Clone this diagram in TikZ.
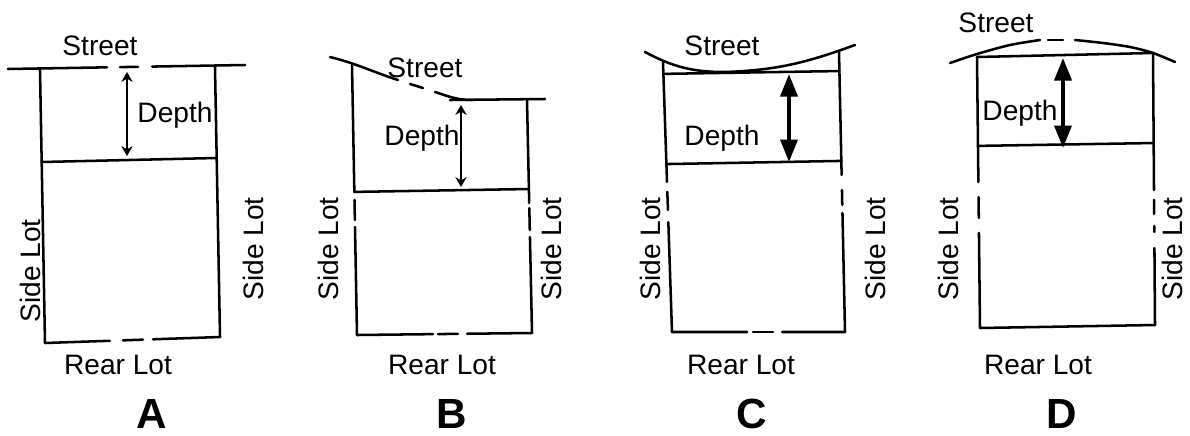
\documentclass[tikz,border=0pt]{standalone}
\usepackage{fontspec}
\setmainfont{Liberation Sans}
\usetikzlibrary{arrows.meta,calc}

\newcommand\lotline[3]{%
  \foreach \ta/\tb in {#3}
    \draw[lot] ($(#1)!\ta!(#2)$) -- ($(#1)!\tb!(#2)$);}

\begin{document}
\begin{tikzpicture}[x=0.025cm,y=-0.025cm,
  lot/.style={line width=1.8pt,line cap=round},
  lbl/.style={font=\fontsize{20}{24}\selectfont,anchor=base,inner sep=0pt},
  sidelbl/.style={font=\fontsize{20}{24}\selectfont,rotate=90,inner sep=0pt},
  tag/.style={font=\fontsize{30}{36}\selectfont\bfseries,anchor=base,inner sep=0pt},
  gauge/.style={line width=1.8pt,{Stealth[length=7pt,width=8pt]}-{Stealth[length=7pt,width=8pt]}},
  biggauge/.style={line width=2.8pt,{Triangle[length=16pt,width=12pt]}-{Triangle[length=16pt,width=12pt]}}
]
  \useasboundingbox (0,0) rectangle (1190,435);

  % A
  \coordinate (A-sw) at (8,69);   \coordinate (A-se) at (245,65);
  \coordinate (A-tl) at (40,70);  \coordinate (A-tr) at (215,67);
  \coordinate (A-bl) at (45,343); \coordinate (A-br) at (220,337);
  \lotline{A-sw}{A-se}{0/0.418, 0.473/0.549, 0.608/1}
  \draw[lot] (A-tl) -- (A-bl) (A-tr) -- (A-br);
  \draw[lot] ($(A-tl)!0.337!(A-bl)$) -- ($(A-tr)!0.337!(A-br)$);
  \lotline{A-bl}{A-br}{0/0.371, 0.446/0.56, 0.617/1}
  \coordinate (A-up) at (127,72); \coordinate (A-dn) at (127,156);
  \draw[gauge] (A-up) -- (A-dn);
  \node[lbl] (A-street) at (100,55) {Street};
  \node[lbl] (A-depth) at (175,122) {Depth};
  \node[sidelbl] (A-left) at (30,271) {Side Lot};
  \node[sidelbl] (A-right) at (253,249) {Side Lot};
  \node[lbl] (A-rear) at (118,374) {Rear Lot};
  \node[tag] (A-tag) at (152,428) {A};

  % B
  \draw[lot] (330,57) to[out=-14,in=162] (398,80);
  \draw[lot] (410,84) -- (423,88);
  \draw[lot] (435,92) to[out=-18,in=180] (472,100);
  \draw[lot] (450,100) -- (545,99);
  \coordinate (B-tl) at (352,65);  \coordinate (B-tr) at (527,100);
  \coordinate (B-bl) at (357,335); \coordinate (B-br) at (532,333);
  \lotline{B-tl}{B-bl}{0/0.47, 0.5/0.574, 0.6/1}
  \lotline{B-tr}{B-br}{0/0.442, 0.464/0.558, 0.588/1}
  \draw[lot] ($(B-tl)!0.47!(B-bl)$) -- ($(B-tr)!0.382!(B-br)$);
  \lotline{B-bl}{B-br}{0/0.434, 0.463/0.577, 0.629/1}
  \coordinate (B-up) at (461,105); \coordinate (B-dn) at (461,187);
  \draw[gauge] (B-up) -- (B-dn);
  \node[lbl] (B-street) at (425,77) {Street};
  \node[lbl] (B-depth) at (422,145) {Depth};
  \node[sidelbl] (B-left) at (328,249) {Side Lot};
  \node[sidelbl] (B-right) at (551,249) {Side Lot};
  \node[lbl] (B-rear) at (442,374) {Rear Lot};
  \node[tag] (B-tag) at (452,428) {B};

  % C
  \draw[lot] (645,52) to[out=-28,in=180] (725,72) to[out=2,in=-160] (855,45);
  \coordinate (C-tl) at (663,62);  \coordinate (C-tr) at (839,52);
  \coordinate (C-bl) at (672,332); \coordinate (C-br) at (845,332);
  \lotline{C-tl}{C-bl}{0/0.444, 0.481/0.548, 0.593/1}
  \lotline{C-tr}{C-br}{0/0.439, 0.493/0.546, 0.575/1}
  \draw[lot] ($(C-tl)!0.044!(C-bl)$) -- ($(C-tr)!0.068!(C-br)$);
  \draw[lot] ($(C-tl)!0.378!(C-bl)$) -- ($(C-tr)!0.389!(C-br)$);
  \lotline{C-bl}{C-br}{0/0.434, 0.468/0.584, 0.636/1}
  \coordinate (C-up) at (789,74); \coordinate (C-dn) at (789,162);
  \draw[biggauge] (C-up) -- (C-dn);
  \node[lbl] (C-street) at (722,55) {Street};
  \node[lbl] (C-depth) at (722,145) {Depth};
  \node[sidelbl] (C-left) at (650,249) {Side Lot};
  \node[sidelbl] (C-right) at (875,249) {Side Lot};
  \node[lbl] (C-rear) at (741,374) {Rear Lot};
  \node[tag] (C-tag) at (752,428) {C};

  % D
  \draw[lot] plot[smooth] coordinates {(950,63) (977,54) (1010,45) (1040,40)};
  \draw[lot] (1048,40) -- (1063,40);
  \draw[lot] plot[smooth] coordinates {(1075,40) (1103,43) (1130,47) (1153,53) (1175,62)};
  \coordinate (D-tl) at (977,57);  \coordinate (D-tr) at (1153,53);
  \coordinate (D-bl) at (980,328); \coordinate (D-br) at (1155,325);
  \draw[lot] (D-tl) -- (D-tr);
  \lotline{D-tl}{D-bl}{0/0.461, 0.517/0.594, 0.649/1}
  \lotline{D-tr}{D-br}{0/0.504, 0.54/0.592, 0.636/0.658, 0.717/1}
  \draw[lot] ($(D-tl)!0.328!(D-bl)$) -- ($(D-tr)!0.331!(D-br)$);
  \draw[lot] (D-bl) -- (D-br);
  \coordinate (D-up) at (1063,58); \coordinate (D-dn) at (1063,148);
  \draw[biggauge] (D-up) -- (D-dn);
  \node[lbl] (D-street) at (996,32) {Street};
  \node[lbl] (D-depth) at (1020,120) {Depth};
  \node[sidelbl] (D-left) at (948,249) {Side Lot};
  \node[sidelbl] (D-right) at (1172,249) {Side Lot};
  \node[lbl] (D-rear) at (1038,374) {Rear Lot};
  \node[tag] (D-tag) at (1062,428) {D};
\end{tikzpicture}
\end{document}
